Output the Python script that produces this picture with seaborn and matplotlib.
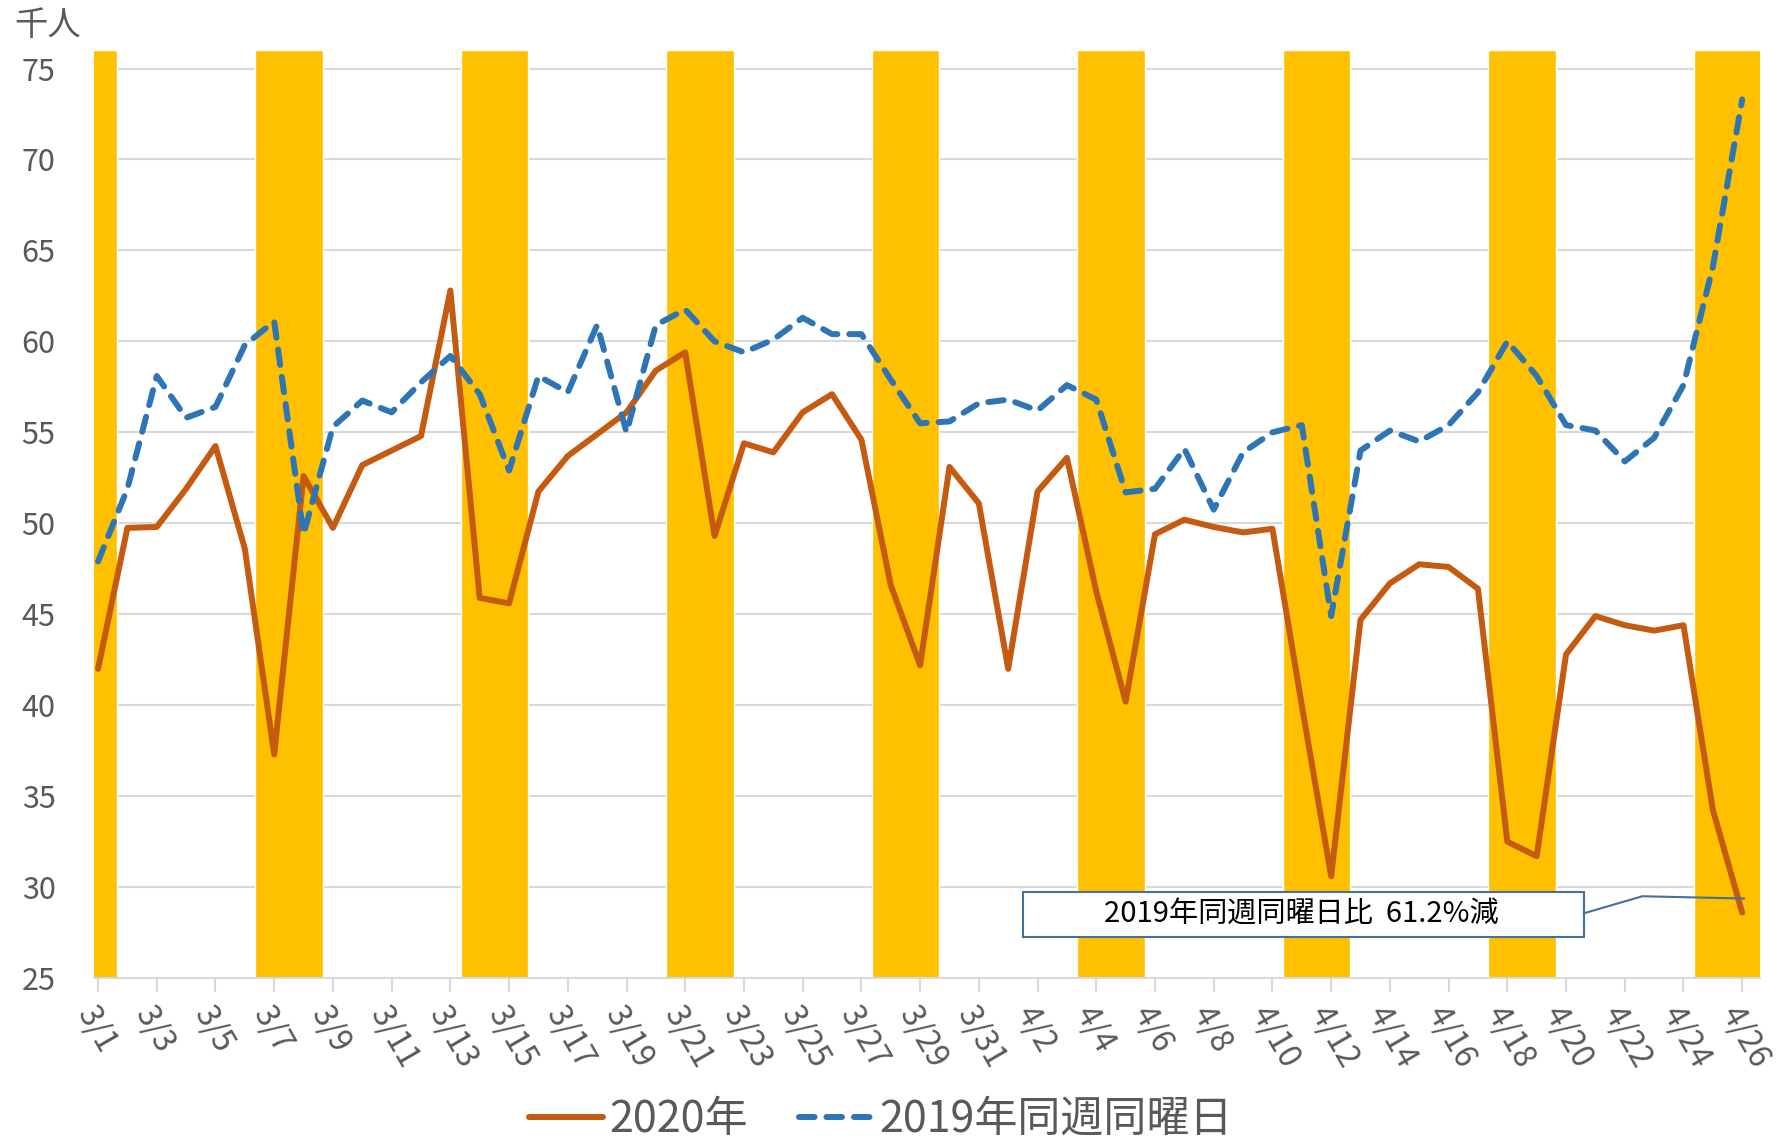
import numpy as np
import pandas as pd
import matplotlib
matplotlib.use("Agg")
import matplotlib.pyplot as plt
import matplotlib.patches as mpatches
import seaborn as sns

# daily values, 3/1 - 4/26 (thousand people)
dates = pd.date_range("2020-03-01", "2020-04-26", freq="D")
y2020 = [42.0, 49.75, 49.8, 51.9, 54.25, 48.6, 37.3, 52.6, 49.75, 53.2,
         54.0, 54.8, 62.8, 45.9, 45.6, 51.75, 53.7, 54.9, 56.1, 58.4,
         59.4, 49.3, 54.4, 53.9, 56.1, 57.1, 54.6, 46.6, 42.2, 53.1,
         51.1, 42.0, 51.75, 53.6, 46.25, 40.2, 49.4, 50.2, 49.8, 49.5,
         49.7, 40.0, 30.6, 44.7, 46.7, 47.75, 47.6, 46.4, 32.5, 31.7,
         42.8, 44.9, 44.4, 44.1, 44.4, 34.25, 28.6]
y2019 = [47.9, 51.9, 58.1, 55.8, 56.4, 59.8, 61.1, 49.4, 55.3, 56.75,
         56.1, 57.75, 59.2, 57.1, 52.9, 58.1, 57.2, 60.9, 55.0, 60.9,
         61.75, 60.0, 59.4, 60.1, 61.3, 60.4, 60.4, 57.9, 55.5, 55.6,
         56.6, 56.8, 56.2, 57.6, 56.8, 51.7, 51.9, 54.1, 50.75, 53.9,
         55.0, 55.4, 44.9, 54.0, 55.1, 54.5, 55.4, 57.2, 60.0, 58.1,
         55.4, 55.1, 53.4, 54.7, 57.6, 64.1, 73.3]
labels = ["2020年", "2019年同週同曜日"]
note = "2019年同週同曜日比  61.2%減"

df = pd.DataFrame({"day": np.arange(len(dates)), "y2020": y2020, "y2019": y2019})
tick_labels = [f"{d.month}/{d.day}" for d in dates]

sns.set_style("white")
plt.rcParams["font.family"] = ["Noto Sans CJK JP", "DejaVu Sans"]

fig = plt.figure(figsize=(17.83, 11.44), dpi=100)
ax = fig.add_axes([0.053, 0.145, 0.934, 0.811])

ymin, ymax = 25, 76
# weekend bands (Saturday + Sunday)
sat = [i for i, d in enumerate(dates) if d.weekday() == 5]
if dates[0].weekday() == 6:
    sat = [-1] + sat
ax.bar([s + 0.5 for s in sat], ymax - ymin, bottom=ymin, width=2.3,
       color="#FFC000", zorder=1)

for v in range(25, 76, 5):
    ax.axhline(v, color="#D9D9D9", lw=1.5, zorder=0)

sns.lineplot(data=df, x="day", y="y2020", ax=ax, color="#C55A11", lw=4.3,
             label=labels[0], zorder=3)
sns.lineplot(data=df, x="day", y="y2019", ax=ax, color="#2E75B6", lw=4.3,
             linestyle="--", label=labels[1], zorder=3)
ax.lines[-1].set_dashes((2.6, 2.0))
ax.lines[-1].set_dash_capstyle("round")

ax.set_xlim(-0.12, 56.6)
ax.set_ylim(ymin, ymax)
ax.set_yticks(range(25, 76, 5))
ax.set_xticks(df["day"][::2])
ax.set_xticklabels(tick_labels[::2], rotation=-60, ha="left", va="top",
                   rotation_mode="anchor")
ax.tick_params(axis="x", length=10, width=1.5, color="#D9D9D9", labelsize=23,
               labelcolor="#595959", pad=6, bottom=True)
ax.tick_params(axis="y", length=0, labelsize=22, labelcolor="#595959", pad=28)
ax.set_xlabel("")
ax.set_ylabel("")
for s in ["top", "right", "left"]:
    ax.spines[s].set_visible(False)
ax.spines["bottom"].set_color("#D9D9D9")
ax.spines["bottom"].set_linewidth(1.5)

fig.text(0.008, 0.978, "千人", fontsize=24, color="#595959", va="center")

# callout box
ax.add_patch(mpatches.Rectangle((31.5, 27.25), 19.1, 2.5, facecolor="white",
                                edgecolor="#41719C", lw=1.5, zorder=4))
ax.text(41.0, 28.5, note, fontsize=21, color="black", ha="center",
        va="center", zorder=5)
ax.plot([50.6, 52.6, 56.07], [28.56, 29.5, 29.375], color="#41719C", lw=1.5,
        zorder=4)

ax.legend(loc="lower center", bbox_to_anchor=(0.494, 0.002),
          bbox_transform=fig.transFigure, ncol=2, frameon=False, fontsize=31,
          handlelength=1.7, handletextpad=0.15, columnspacing=1.2,
          labelcolor="#595959", borderaxespad=0, borderpad=0)

fig.savefig("out.png", dpi=100)
